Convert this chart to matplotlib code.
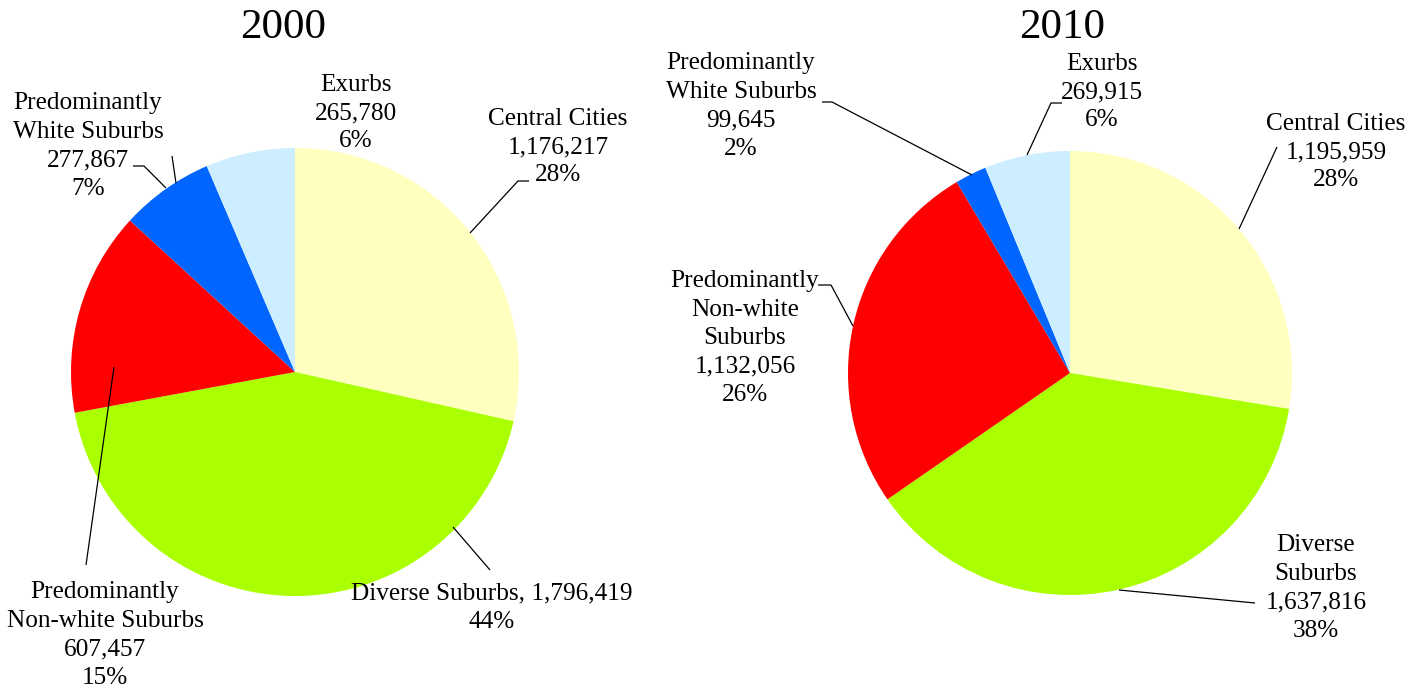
import matplotlib
matplotlib.use("Agg")
from matplotlib import pyplot as plt

categories = ["Central Cities", "Diverse Suburbs", "Predominantly Non-white Suburbs",
              "Predominantly White Suburbs", "Exurbs"]
values_2000 = [1176217, 1796419, 607457, 277867, 265780]
pct_2000 = [28, 44, 15, 7, 6]
values_2010 = [1195959, 1637816, 1132056, 99645, 269915]
pct_2010 = [28, 38, 26, 2, 6]
colors = ["#FFFFC0", "#AAFF00", "#FF0000", "#0066FF", "#CCEEFF"]

# how each label name is broken into lines
names_2000 = ["Central Cities", "Diverse Suburbs,", "Predominantly\nNon-white Suburbs",
              "Predominantly\nWhite Suburbs", "Exurbs"]
names_2010 = ["Central Cities", "Diverse\nSuburbs", "Predominantly\nNon-white\nSuburbs",
              "Predominantly\nWhite Suburbs", "Exurbs"]

W, H = 1421, 688
FONT = "Liberation Serif"

fig = plt.figure(figsize=(W / 100, H / 100), dpi=100)
ax = fig.add_axes([0, 0, 1, 1])


def Y(y):
    # pixel row (from top) to data y
    return H - y


def leader(points):
    xs = [p[0] for p in points]
    ys = [Y(p[1]) for p in points]
    ax.plot(xs, ys, color="black", lw=0.9, solid_capstyle="butt")


def draw_pie(values, pct, names, center, radius, title, title_xy, label_xy, inline_diverse):
    ax.pie(values, colors=colors, startangle=90, counterclock=False,
           radius=radius, center=(center[0], Y(center[1])),
           wedgeprops=dict(linewidth=0))
    ax.text(title_xy[0], Y(title_xy[1]), title, ha="center", va="center",
            fontsize=31, family=FONT)
    for i, name in enumerate(names):
        if i == 1 and inline_diverse:
            s = f"{name} {values[i]:,}\n{pct[i]}%"
        else:
            s = f"{name}\n{values[i]:,}\n{pct[i]}%"
        ax.text(label_xy[i][0], Y(label_xy[i][1] + 2), s, ha="center", va="center",
                fontsize=18.2, family=FONT, linespacing=1.38)


draw_pie(values_2000, pct_2000, names_2000, (295, 372), 224, "2000", (283, 28),
         [(558, 145), (492, 606), (105, 633), (88, 144), (356, 111)], True)
draw_pie(values_2010, pct_2010, names_2010, (1070, 373), 222, "2010", (1062, 28),
         [(1336, 150), (1316, 586), (745, 336), (741, 104), (1102, 90)], False)

# leader lines, 2000
leader([(529, 181), (518, 181), (470, 233)])
leader([(453, 527), (490, 570)])
leader([(114, 367), (86, 565)])
leader([(133, 166), (144, 166), (166, 188)])
leader([(172, 156), (176, 183)])
# leader lines, 2010
leader([(1277, 147), (1239, 229)])
leader([(1119, 590), (1255, 603)])
leader([(818, 285), (831, 285), (853, 326)])
leader([(822, 102), (832, 102), (972, 175)])
leader([(1062, 103), (1051, 103), (1027, 155)])

ax.set_xlim(0, W)
ax.set_ylim(0, H)
ax.set_aspect("auto")
ax.axis("off")
fig.savefig("out.png", dpi=100, facecolor="white")
